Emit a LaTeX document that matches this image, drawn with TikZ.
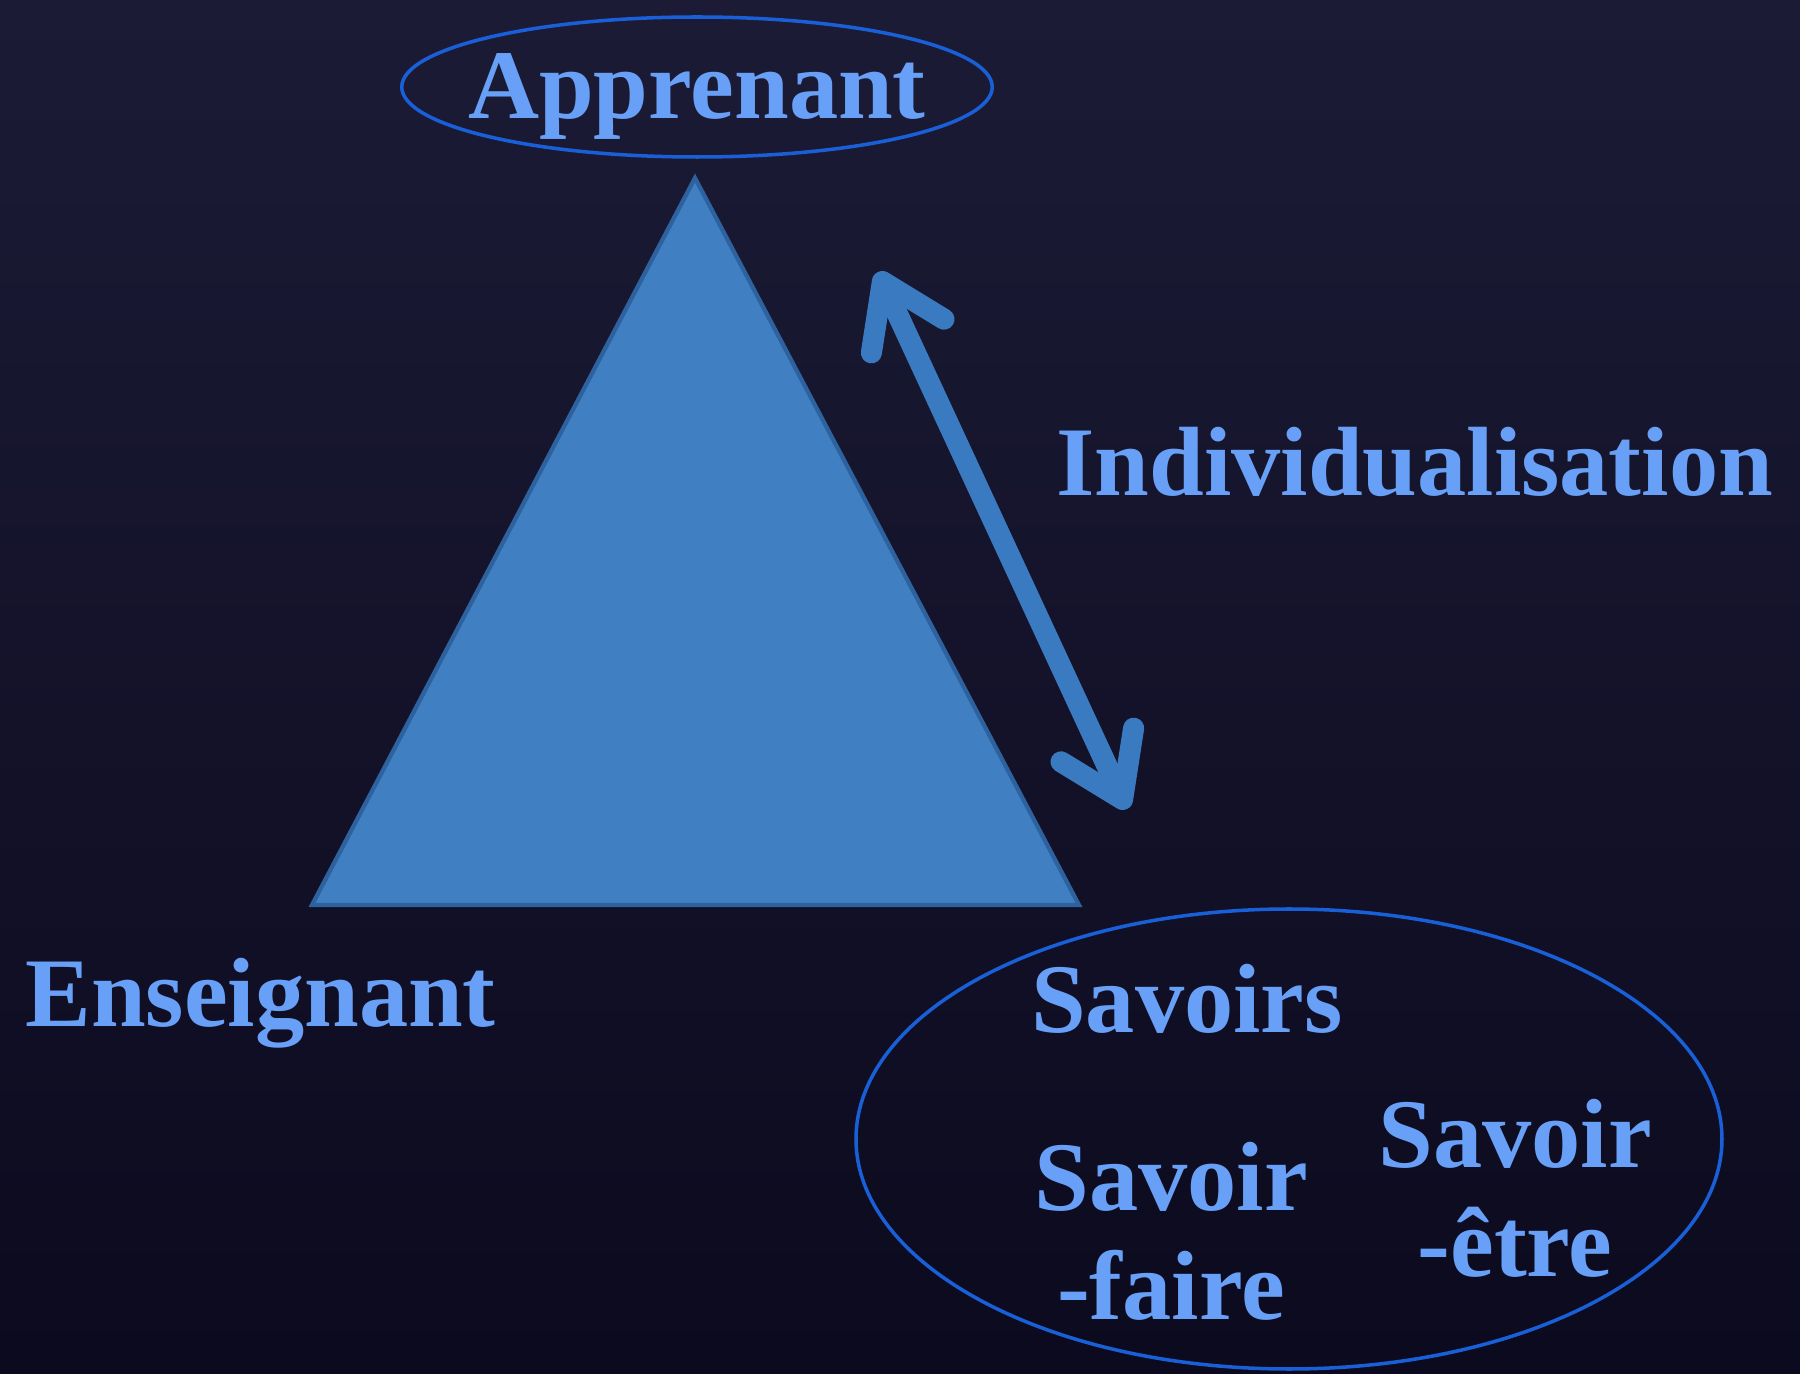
\documentclass[tikz,border=0pt]{standalone}
\usepackage{fontspec}
\setmainfont{Liberation Serif}
\usetikzlibrary{shapes.geometric,arrows.meta}
\definecolor{fondhaut}{RGB}{28,27,54}
\definecolor{fondbas}{RGB}{11,10,30}
\definecolor{triangbleu}{RGB}{64,127,193}
\definecolor{triangbord}{RGB}{46,98,158}
\definecolor{traitbleu}{RGB}{25,95,215}
\definecolor{txtbleu}{RGB}{105,160,247}
\definecolor{flechebleu}{RGB}{58,122,192}

\begin{document}
\begin{tikzpicture}[
    etiquette/.style={text=txtbleu, font=\fontsize{28}{31}\selectfont\bfseries},
    bulle/.style={ellipse, draw=traitbleu, line width=1pt, inner sep=0pt}
]
    % Fond
    \useasboundingbox (0,0) rectangle (18,13.73);
    \shade[top color=fondhaut, bottom color=fondbas] (0,0) rectangle (18,13.73);

    % Triangle
    \coordinate (sommet) at (6.95,11.95);
    \coordinate (gauche) at (3.12,4.68);
    \coordinate (droite) at (10.79,4.68);
    \draw[line width=1.2pt, draw=triangbord, fill=triangbleu] (sommet) -- (gauche) -- (droite) -- cycle;

    % Apprenant
    \node[bulle, etiquette, inner xsep=-0.2cm, minimum height=1.4cm, text height=0.64cm, text depth=0pt] (apprenant) at (6.97,12.86) {Apprenant};

    % Savoirs
    \node[bulle, minimum width=8.66cm, minimum height=4.6cm] (savoirs) at (12.89,2.34) {};
    \node[etiquette, anchor=base] (savoir) at (11.87,3.40) {Savoirs};
    \node[etiquette, align=center] (faire) at (11.71,1.42) {Savoir\\-faire};
    \node[etiquette, align=center] (etre) at (15.15,1.85) {Savoir\\-être};

    % Enseignant
    \node[etiquette, anchor=base west] (enseignant) at (0.13,3.46) {Enseignant};

    % Fleche
    \coordinate (haut) at (8.78,11.01);
    \coordinate (bas) at (11.27,5.64);
    \draw[flechebleu, line width=6pt, line cap=round,
        {Straight Barb[length=6mm, width=8mm, round]}-{Straight Barb[length=6mm, width=8mm, round]}] (bas) -- (haut);
    \node[etiquette, anchor=base west] (indiv) at (10.44,8.77) {Individualisation};
\end{tikzpicture}
\end{document}
